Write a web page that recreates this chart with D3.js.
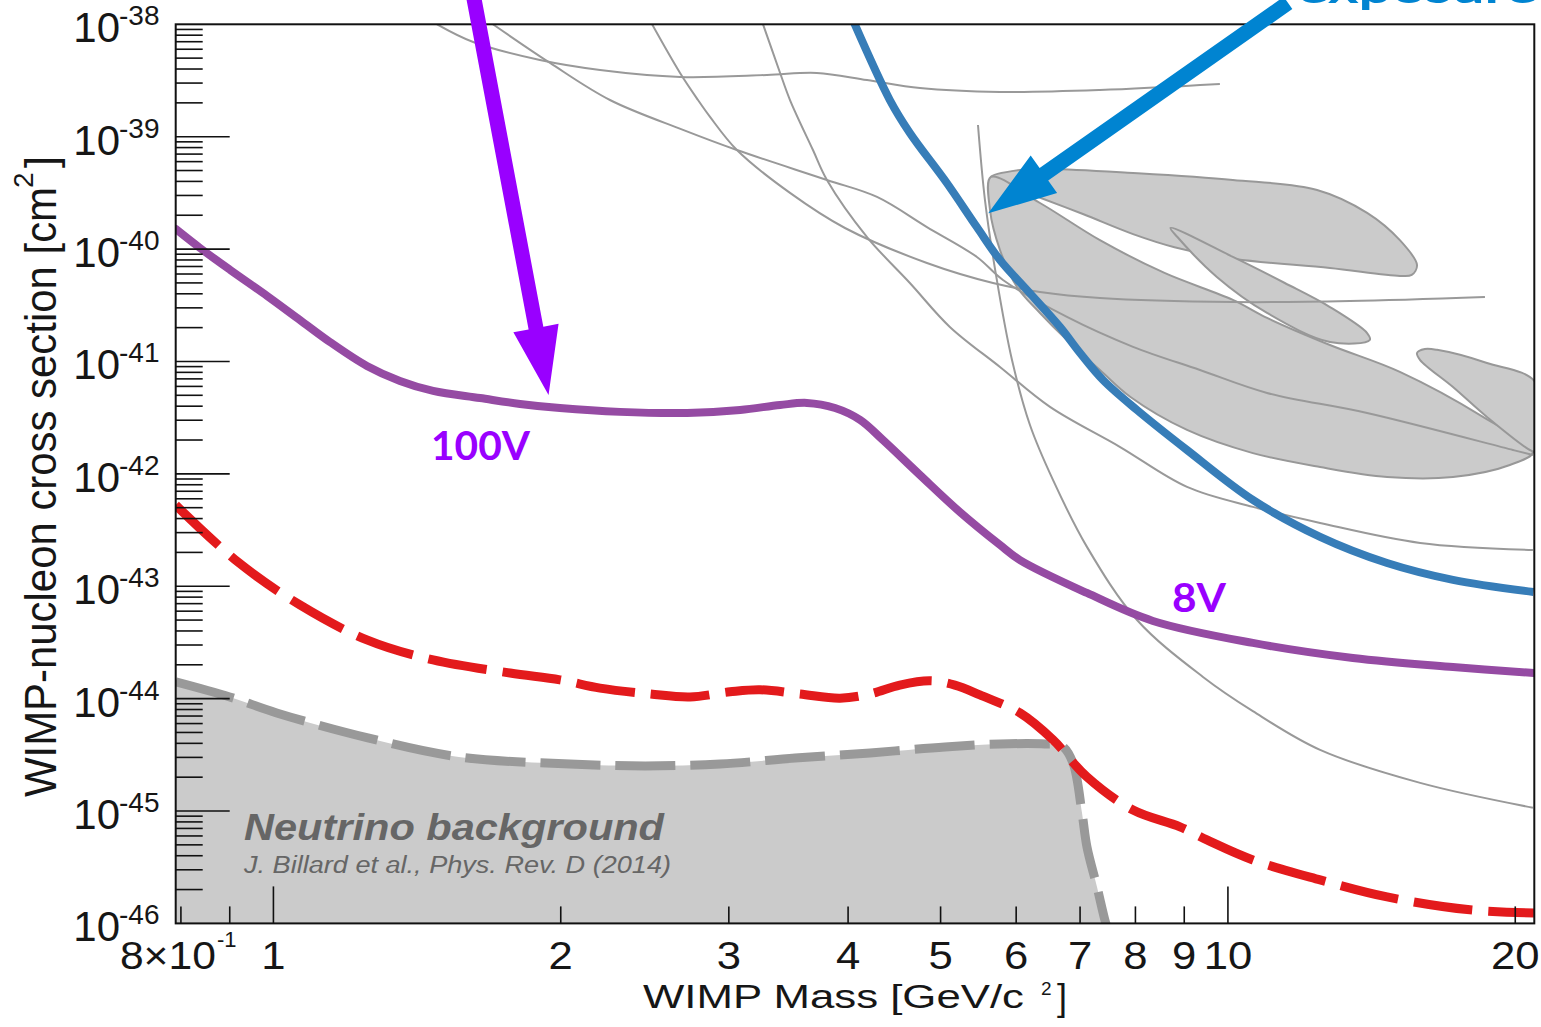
<!DOCTYPE html>
<html>
<head>
<meta charset="utf-8">
<script src="https://cdn.jsdelivr.net/npm/d3@7"></script>
<style>
  html, body { margin: 0; padding: 0; background: #fff; }
  svg { display: block; }
</style>
</head>
<body>
<svg id="chart" width="1541" height="1027"></svg>
<script>
// ---- Axis domains and ticks ----
const massDomain = [0.79, 20.94];          // WIMP mass, GeV/c^2
const sigmaDomain = [1e-46, 1e-38];        // WIMP-nucleon cross section, cm^2
const massMajorTicks = [1, 10];
const massMinorTicks = [0.8, 0.9, 2, 3, 4, 5, 6, 7, 8, 9, 20];
const massLabelValues = [1, 2, 3, 4, 5, 6, 7, 8, 9, 10, 20];
const massLabelTexts = ["1", "2", "3", "4", "5", "6", "7", "8", "9", "10", "20"];
const sigmaDecadeExponents = [-38, -39, -40, -41, -42, -43, -44, -45, -46];

// ---- Projected limits (mass GeV/c^2, cross section cm^2) ----
const purpleLimit = [
  [0.790, 1.51e-40], [0.838, 1.02e-40], [0.901, 6.52e-41], [0.985, 3.83e-41],
  [1.066, 2.34e-41], [1.146, 1.49e-41], [1.253, 9.12e-42], [1.357, 6.71e-42],
  [1.470, 5.47e-42], [1.646, 4.73e-42], [1.813, 4.19e-42], [1.996, 3.85e-42],
  [2.307, 3.56e-42], [2.713, 3.48e-42], [3.083, 3.70e-42], [3.395, 4.10e-42],
  [3.622, 4.28e-42], [3.876, 3.85e-42], [4.117, 3.02e-42], [4.351, 2.00e-42],
  [4.757, 9.77e-43], [5.238, 4.58e-43], [5.770, 2.33e-43], [6.055, 1.71e-43],
  [7.117, 8.71e-44], [8.346, 4.91e-44], [10.62, 3.13e-44], [13.52, 2.30e-44],
  [17.21, 1.91e-44], [20.92, 1.69e-44]
];
const redLimit = [
  [0.790, 5.28e-43], [0.918, 1.64e-43], [1.066, 6.82e-44], [1.253, 3.33e-44],
  [1.470, 2.21e-44], [1.770, 1.69e-44], [1.996, 1.47e-44], [2.199, 1.24e-44],
  [2.481, 1.10e-44], [2.732, 1.035e-44], [3.008, 1.15e-44], [3.234, 1.20e-44],
  [3.562, 1.10e-44], [3.923, 1.01e-44], [4.217, 1.10e-44], [4.532, 1.32e-44],
  [4.874, 1.44e-44], [5.175, 1.32e-44], [5.497, 1.08e-44], [6.055, 7.46e-45],
  [6.557, 4.30e-45], [7.117, 2.01e-45], [7.954, 1.02e-45], [8.908, 7.23e-46],
  [9.506, 5.53e-46], [10.62, 3.67e-46], [12.49, 2.44e-46], [14.68, 1.72e-46],
  [17.93, 1.32e-46], [20.92, 1.24e-46]
];
const blueLimit = [
  [4.029, 1.19e-38], [4.424, 2.12e-39], [4.643, 1.08e-39], [5.076, 3.87e-40],
  [5.457, 1.57e-40], [5.770, 8.00e-41], [6.157, 4.33e-41], [6.668, 2.03e-41],
  [7.000, 1.19e-41], [7.398, 6.84e-42], [8.030, 3.70e-42], [9.060, 1.63e-42],
  [10.62, 5.86e-43], [12.49, 2.75e-43], [14.68, 1.61e-43], [17.21, 1.14e-43],
  [20.90, 8.89e-44]
];
const neutrinoFloor = [
  [0.790, 1.41e-44], [0.900, 1.035e-44], [1.008, 7.46e-45], [1.256, 4.47e-45],
  [1.564, 3.03e-45], [2.045, 2.62e-45], [2.451, 2.52e-45], [2.938, 2.62e-45],
  [3.520, 2.96e-45], [4.219, 3.29e-45], [5.053, 3.72e-45], [5.770, 3.95e-45],
  [6.432, 3.95e-45], [6.701, 3.78e-45], [6.881, 2.68e-45], [7.033, 9.62e-46],
  [7.117, 4.80e-46], [7.292, 2.11e-46], [7.432, 1.07e-46], [7.486, 8.75e-47]
];

// ---- Existing limits (thin grey curves) ----
const greyLimitFlat = [
  [1.484, 1.0e-38], [1.619, 6.96e-39], [1.902, 4.81e-39], [2.199, 3.92e-39],
  [2.667, 3.40e-39], [3.289, 3.54e-39], [3.710, 3.69e-39], [4.187, 3.19e-39],
  [4.757, 2.71e-39], [5.770, 2.50e-39], [7.344, 2.60e-39], [9.808, 2.94e-39]
];
const greyLimitB = [
  [1.698, 1.0e-38], [1.949, 4.53e-39], [2.252, 2.12e-39], [2.686, 1.15e-39],
  [3.059, 7.61e-40], [3.801, 4.12e-40], [4.289, 2.91e-40], [4.838, 1.57e-40],
  [5.458, 8.51e-41], [5.812, 5.31e-41], [6.782, 2.49e-41], [7.954, 1.35e-41],
  [9.348, 8.40e-42], [10.99, 5.25e-42], [13.99, 3.48e-42], [19.89, 1.63e-42],
  [20.87, 1.47e-42]
];
const greyLimitC = [
  [2.493, 1.0e-38], [2.667, 3.69e-39], [2.785, 2.12e-39], [2.867, 1.50e-39],
  [3.059, 7.61e-40], [3.477, 3.16e-40], [3.970, 1.54e-40], [4.838, 7.52e-41],
  [5.674, 4.99e-41], [6.355, 4.15e-41], [7.344, 3.67e-41], [10.12, 3.38e-41],
  [13.42, 3.45e-41], [18.59, 3.75e-41]
];
const greyLimitD = [
  [3.258, 1.0e-38], [3.395, 3.69e-39], [3.477, 2.12e-39], [3.675, 7.61e-40],
  [3.801, 4.12e-40], [4.187, 1.28e-40], [4.643, 4.99e-41], [5.113, 2.03e-41],
  [5.770, 8.93e-42], [6.510, 3.94e-42], [7.703, 1.74e-42], [9.060, 7.65e-43],
  [10.62, 5.08e-43], [12.49, 3.66e-43], [15.90, 2.43e-43], [20.87, 2.10e-43]
];
const greyLimitE = [
  [5.472, 1.27e-39], [5.565, 2.73e-40], [5.715, 5.89e-41], [5.940, 1.03e-41],
  [6.203, 2.72e-42], [6.557, 8.83e-43], [7.117, 2.24e-43], [8.031, 5.01e-44],
  [9.416, 1.56e-44], [10.62, 7.74e-45], [12.49, 3.50e-45], [15.90, 1.78e-45],
  [20.87, 1.07e-45]
];

// ---- Signal-claim contours (closed outlines) ----
const contourUpper = [
  [5.646, 4.38e-40], [6.055, 5.05e-40], [6.510, 5.16e-40], [7.954, 4.75e-40],
  [10.12, 4.12e-40], [12.40, 3.36e-40], [13.99, 2.10e-40], [15.14, 1.20e-40],
  [15.78, 7.22e-41], [15.58, 5.89e-41], [15.14, 5.77e-41], [12.79, 6.79e-41],
  [10.18, 8.17e-41], [8.790, 1.04e-40], [7.954, 1.36e-40], [7.048, 2.05e-40],
  [6.248, 3.03e-40], [5.770, 3.87e-40]
];
const contourMiddle = [
  [8.707, 1.54e-40], [10.12, 8.51e-41], [11.47, 4.99e-41], [12.79, 3.05e-41],
  [13.99, 1.79e-41], [14.08, 1.55e-41], [12.79, 1.49e-41], [10.99, 2.70e-41],
  [9.736, 5.65e-41], [8.853, 1.28e-40]
];
const contourLower = [
  [5.646, 4.38e-40], [6.355, 2.57e-40], [7.344, 1.20e-40], [8.581, 6.13e-41],
  [10.12, 3.53e-41], [10.99, 2.44e-41], [12.79, 1.40e-41], [15.14, 8.07e-42],
  [18.50, 3.21e-42], [20.87, 1.57e-42], [19.74, 1.20e-42], [17.21, 9.38e-43],
  [14.68, 9.38e-43], [12.49, 1.15e-42], [10.62, 1.53e-42], [9.060, 2.46e-42],
  [7.905, 4.83e-42], [7.344, 8.40e-42], [6.782, 1.55e-41], [6.355, 2.70e-41],
  [6.012, 4.60e-41], [5.770, 9.82e-41], [5.633, 2.23e-40]
];
const contourRight = [
  [15.90, 1.03e-41], [15.78, 1.19e-41], [16.08, 1.29e-41], [16.56, 1.27e-41],
  [18.68, 9.70e-42], [21.02, 6.44e-42], [21.02, 1.57e-42], [20.72, 1.63e-42],
  [18.68, 3.21e-42], [17.21, 5.93e-42]
];

// ---- Annotation arrows (tail, tip) in data units ----
const arrowVoltage = { tail: [1.621, 1.75e-38], tip: [1.942, 5.04e-42] };
const arrowExposure = { tail: [11.56, 1.55e-38], tip: [5.609, 2.08e-40] };

// ---- Scales ----
const svg = d3.select("#chart");
const x = d3.scaleLog().domain(massDomain).range([175.7, 1534.3]);
const y = d3.scaleLog().domain(sigmaDomain).range([923.4, 24.3]);
const [xL, xR] = x.range();
const [yB, yT] = y.range();
const AXIS_FONT = "'Liberation Sans', Arial, Helvetica, sans-serif";

svg.append("defs").append("clipPath").attr("id", "plotClip")
  .append("rect").attr("x", xL).attr("y", yT).attr("width", xR - xL).attr("height", yB - yT);

const plot = svg.append("g").attr("clip-path", "url(#plotClip)");

const smooth = d3.line().x(d => x(d[0])).y(d => y(d[1])).curve(d3.curveCatmullRom.alpha(0.5));
const closed = d3.line().x(d => x(d[0])).y(d => y(d[1])).curve(d3.curveCatmullRomClosed.alpha(0.5));

// Neutrino background region
plot.append("path")
  .attr("d", d3.area().x(d => x(d[0])).y0(yB + 5).y1(d => y(d[1]))
    .curve(d3.curveCatmullRom.alpha(0.5))(neutrinoFloor))
  .attr("fill", "#cbcbcb");

// Signal contours
[contourUpper, contourLower, contourMiddle, contourRight].forEach(c => {
  plot.append("path").attr("d", closed(c))
    .attr("fill", "#cbcbcb").attr("stroke", "#989898").attr("stroke-width", 2);
});

// Existing exclusion limits
[greyLimitFlat, greyLimitB, greyLimitC, greyLimitD, greyLimitE].forEach(c => {
  plot.append("path").attr("d", smooth(c))
    .attr("fill", "none").attr("stroke", "#999").attr("stroke-width", 2);
});

// ---- Frame and ticks ----
const axes = svg.append("g").attr("stroke", "#111");
axes.append("rect").attr("x", xL).attr("y", yT).attr("width", xR - xL).attr("height", yB - yT)
  .attr("fill", "none").attr("stroke-width", 2);

const yMinor = [];
for (let e = -46; e < -38; e++) for (let k = 2; k <= 9; k++) yMinor.push(k * Math.pow(10, e));
axes.selectAll(".ymin").data(yMinor).join("line")
  .attr("x1", xL).attr("x2", xL + 27).attr("y1", d => y(d)).attr("y2", d => y(d)).attr("stroke-width", 1.6);
axes.selectAll(".ymaj").data(sigmaDecadeExponents.slice(1, -1)).join("line")
  .attr("x1", xL).attr("x2", xL + 54).attr("y1", d => y(Math.pow(10, d))).attr("y2", d => y(Math.pow(10, d)))
  .attr("stroke-width", 1.6);
axes.selectAll(".xmin").data(massMinorTicks).join("line")
  .attr("x1", d => x(d)).attr("x2", d => x(d)).attr("y1", yB).attr("y2", yB - 17).attr("stroke-width", 1.6);
axes.selectAll(".xmaj").data(massMajorTicks).join("line")
  .attr("x1", d => x(d)).attr("x2", d => x(d)).attr("y1", yB).attr("y2", yB - 37).attr("stroke-width", 1.6);

// ---- Projected sensitivity curves ----
plot.append("path").attr("d", smooth(neutrinoFloor))
  .attr("fill", "none").attr("stroke", "#999").attr("stroke-width", 9)
  .attr("stroke-dasharray", "60,15");
plot.append("path").attr("d", smooth(redLimit))
  .attr("fill", "none").attr("stroke", "#e31a1c").attr("stroke-width", 9)
  .attr("stroke-dasharray", "59,16");
plot.append("path").attr("d", smooth(purpleLimit))
  .attr("fill", "none").attr("stroke", "#954ba3").attr("stroke-width", 8).attr("stroke-linecap", "round");
plot.append("path").attr("d", smooth(blueLimit))
  .attr("fill", "none").attr("stroke", "#377db8").attr("stroke-width", 8);

// Neutrino background caption
svg.append("text").attr("x", 244).attr("y", 840)
  .attr("font-family", AXIS_FONT).attr("font-size", 37).attr("font-weight", "bold").attr("font-style", "italic")
  .attr("fill", "#666").attr("textLength", 420).attr("lengthAdjust", "spacingAndGlyphs")
  .text("Neutrino background");
svg.append("text").attr("x", 244).attr("y", 873)
  .attr("font-family", AXIS_FONT).attr("font-size", 23).attr("font-style", "italic")
  .attr("fill", "#666").attr("textLength", 427).attr("lengthAdjust", "spacingAndGlyphs")
  .text("J. Billard et al., Phys. Rev. D (2014)");

// ---- Tick labels ----
const labels = svg.append("g").attr("font-family", AXIS_FONT).attr("fill", "#161616");
sigmaDecadeExponents.forEach(e => {
  const ty = y(Math.pow(10, e));
  labels.append("text").attr("x", 120).attr("y", ty + 18).attr("text-anchor", "end")
    .attr("font-size", 42).text("10");
  labels.append("text").attr("x", 119).attr("y", ty + 1).attr("font-size", 28).text(String(e));
});
massLabelValues.forEach((v, i) => {
  labels.append("text")
    .attr("transform", `translate(${x(v)},969) scale(1.12,1)`)
    .attr("text-anchor", "middle").attr("font-size", 39).text(massLabelTexts[i]);
});
labels.append("text").attr("x", x(0.8) + 35).attr("y", 969).attr("text-anchor", "end")
  .attr("font-size", 39).attr("textLength", 96).attr("lengthAdjust", "spacingAndGlyphs").text("8×10");
labels.append("text").attr("x", x(0.8) + 36).attr("y", 947).attr("font-size", 22).text("-1");

// ---- Axis titles ----
labels.append("text").attr("x", 643).attr("y", 1008).attr("font-size", 32.5)
  .attr("textLength", 381).attr("lengthAdjust", "spacingAndGlyphs").text("WIMP Mass [GeV/c");
labels.append("text").attr("x", 1041).attr("y", 995).attr("font-size", 19).text("2");
labels.append("text").attr("x", 1057).attr("y", 1010).attr("font-size", 36).text("]");

labels.append("text").attr("transform", "translate(56,797) rotate(-90)").attr("font-size", 44)
  .attr("textLength", 610).attr("lengthAdjust", "spacingAndGlyphs").text("WIMP-nucleon cross section [cm");
labels.append("text").attr("transform", "translate(33,188) rotate(-90)").attr("font-size", 28).text("2");
labels.append("text").attr("transform", "translate(56,168) rotate(-90)").attr("font-size", 44).text("]");

// ---- Annotations ----
const LABEL_FONT = "Lato, 'Open Sans', 'Liberation Sans', sans-serif";
svg.append("text").attr("x", 431).attr("y", 460)
  .attr("font-family", LABEL_FONT).attr("font-weight", 700).attr("font-size", 40)
  .attr("fill", "#9900ff").attr("textLength", 99).attr("lengthAdjust", "spacingAndGlyphs").text("100V");
svg.append("text").attr("x", 1172).attr("y", 612)
  .attr("font-family", LABEL_FONT).attr("font-weight", 700).attr("font-size", 41)
  .attr("fill", "#9900ff").attr("textLength", 54).attr("lengthAdjust", "spacingAndGlyphs").text("8V");
svg.append("text").attr("x", 1297).attr("y", 3)
  .attr("font-family", LABEL_FONT).attr("font-weight", 700).attr("font-size", 40)
  .attr("fill", "#0084d1").attr("textLength", 240).attr("lengthAdjust", "spacingAndGlyphs").text("exposure");

function arrowPoints(a, shaft, headLen, headHalf) {
  const tx = x(a.tail[0]), ty = y(a.tail[1]);
  const px = x(a.tip[0]), py = y(a.tip[1]);
  const len = Math.hypot(px - tx, py - ty);
  const ux = (px - tx) / len, uy = (py - ty) / len;
  const nx = -uy, ny = ux;
  const bx = px - ux * headLen, by = py - uy * headLen;
  const s = shaft / 2;
  return [
    [tx + nx * s, ty + ny * s], [bx + nx * s, by + ny * s], [bx + nx * headHalf, by + ny * headHalf],
    [px, py],
    [bx - nx * headHalf, by - ny * headHalf], [bx - nx * s, by - ny * s], [tx - nx * s, ty - ny * s]
  ].map(p => p.join(",")).join(" ");
}
svg.append("polygon").attr("points", arrowPoints(arrowVoltage, 15, 68, 23)).attr("fill", "#9900ff");
svg.append("polygon").attr("points", arrowPoints(arrowExposure, 15, 68, 23)).attr("fill", "#0084d1");
</script>
</body>
</html>
